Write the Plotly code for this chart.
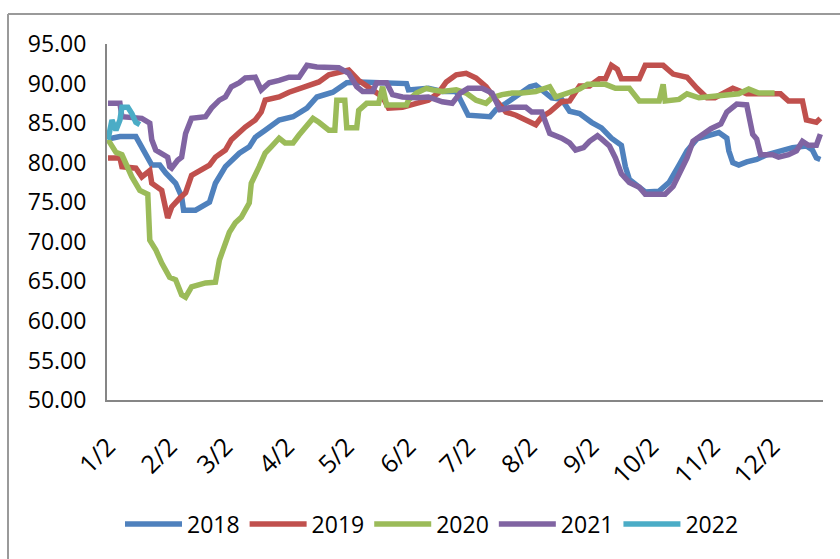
import plotly.graph_objects as go

# Month/day of each observation (all years overlaid on one calendar)
dates_2018 = ["01-02", "01-06", "01-08", "01-16", "01-19", "01-24", "01-28", "01-31",
              "02-05", "02-08", "02-09", "02-15", "02-22", "02-25", "03-02", "03-09",
              "03-14", "03-17", "03-22", "03-29", "04-05", "04-12", "04-17", "04-25",
              "05-02", "05-08", "06-01", "06-02", "06-12", "06-19", "06-26", "06-28",
              "07-02", "07-13", "07-16", "07-21", "07-26", "08-02", "08-05", "08-10",
              "08-13", "08-18", "08-22", "08-27", "09-02", "09-07", "09-12", "09-17",
              "09-18", "09-19", "09-21", "09-26", "09-29", "10-06", "10-11", "10-16",
              "10-20", "10-25", "10-30", "11-05", "11-09", "11-10", "11-12", "11-15",
              "11-19", "11-24", "11-29", "12-06", "12-12", "12-19", "12-22", "12-24",
              "12-26"]
values_2018 = [83.0, 83.1, 83.3, 83.3, 82.0, 79.7, 79.7, 78.7,
               77.4, 75.7, 74.0, 74.0, 75.0, 77.4, 79.5, 81.2,
               82.0, 83.2, 84.1, 85.4, 85.8, 86.9, 88.3, 88.9,
               90.1, 90.2, 90.0, 89.2, 89.4, 89.0, 89.0, 88.0,
               86.0, 85.8, 86.7, 87.5, 88.3, 89.6, 89.8, 88.8,
               88.2, 88.0, 86.5, 86.2, 85.1, 84.4, 83.1, 82.2,
               80.6, 79.5, 77.9, 77.0, 76.3, 76.4, 77.5, 79.7,
               81.5, 83.0, 83.4, 83.8, 83.1, 81.5, 80.0, 79.7,
               80.1, 80.4, 81.0, 81.5, 81.9, 82.1, 81.6, 80.6,
               80.4]

dates_2019 = ["01-02", "01-08", "01-09", "01-16", "01-19", "01-23", "01-24", "01-27",
              "01-29", "02-01", "02-03", "02-07", "02-10", "02-13", "02-17", "02-22",
              "02-25", "03-02", "03-05", "03-09", "03-12", "03-17", "03-20", "03-22",
              "03-29", "04-03", "04-12", "04-18", "04-23", "05-03", "05-08", "05-13",
              "05-20", "05-23", "05-30", "06-06", "06-12", "06-17", "06-21", "06-26",
              "07-01", "07-06", "07-11", "07-16", "07-21", "07-26", "07-31", "08-05",
              "08-08", "08-12", "08-18", "08-22", "08-27", "09-01", "09-06", "09-09",
              "09-12", "09-15", "09-17", "09-26", "09-29", "10-08", "10-13", "10-20",
              "10-25", "10-30", "11-03", "11-12", "11-19", "12-06", "12-10", "12-17",
              "12-19", "12-24", "12-26"]
values_2019 = [80.6, 80.6, 79.5, 79.3, 78.2, 79.0, 77.4, 76.9,
               76.5, 73.0, 74.4, 75.5, 76.2, 78.4, 79.0, 79.7,
               80.7, 81.6, 82.9, 83.9, 84.5, 85.4, 86.4, 87.9,
               88.3, 88.9, 89.6, 90.2, 91.1, 91.7, 90.4, 89.6,
               88.3, 86.9, 87.0, 87.5, 87.9, 88.8, 90.2, 91.1,
               91.3, 90.7, 89.6, 87.9, 86.4, 86.0, 85.4, 84.8,
               85.8, 86.4, 87.7, 87.8, 89.7, 89.7, 90.6, 90.6,
               92.3, 91.8, 90.6, 90.6, 92.3, 92.3, 91.2, 90.8,
               89.4, 88.2, 88.2, 89.4, 88.7, 88.7, 87.8, 87.8,
               85.4, 85.1, 85.6]

dates_2020 = ["01-02", "01-04", "01-06", "01-09", "01-11", "01-14", "01-18", "01-21",
              "01-22", "01-23", "01-26", "01-29", "02-02", "02-05", "02-08", "02-10",
              "02-13", "02-20", "02-25", "02-27", "03-02", "03-04", "03-07", "03-10",
              "03-14", "03-15", "03-19", "03-22", "03-25", "03-29", "04-01", "04-05",
              "04-08", "04-12", "04-15", "04-18", "04-23", "04-26", "04-27", "05-01",
              "05-02", "05-07", "05-08", "05-12", "05-18", "05-20", "05-22", "06-01",
              "06-02", "06-06", "06-11", "06-14", "06-19", "06-26", "07-01", "07-06",
              "07-11", "07-14", "07-19", "07-24", "07-29", "08-05", "08-12", "08-15",
              "08-22", "08-27", "08-31", "09-09", "09-14", "09-21", "09-26", "10-06",
              "10-08", "10-09", "10-16", "10-20", "10-26", "11-05", "11-15", "11-20",
              "11-25", "12-03"]
values_2020 = [82.9, 82.0, 81.3, 81.0, 79.7, 78.2, 76.5, 76.2,
               76.0, 70.2, 69.0, 67.3, 65.5, 65.2, 63.3, 63.0,
               64.3, 64.8, 64.9, 67.7, 69.8, 71.2, 72.4, 73.1,
               74.9, 77.4, 79.5, 81.2, 82.0, 83.1, 82.5, 82.5,
               83.5, 84.8, 85.6, 85.1, 84.1, 84.1, 87.9, 87.9,
               84.4, 84.4, 86.6, 87.5, 87.5, 89.6, 87.3, 87.3,
               87.9, 88.8, 89.4, 89.2, 89.0, 89.2, 88.8, 87.9,
               87.5, 88.2, 88.6, 88.8, 88.8, 89.0, 89.6, 88.3,
               88.8, 89.3, 89.9, 89.9, 89.4, 89.4, 87.8, 87.8,
               89.9, 87.8, 88.0, 88.7, 88.2, 88.4, 88.7, 89.3,
               88.8, 88.8]

dates_2021 = ["01-02", "01-08", "01-09", "01-19", "01-23", "01-24", "01-26", "01-29",
              "02-01", "02-02", "02-03", "02-06", "02-08", "02-10", "02-13", "02-20",
              "02-23", "02-27", "03-02", "03-05", "03-09", "03-12", "03-17", "03-20",
              "03-24", "03-29", "04-03", "04-08", "04-12", "04-17", "04-28", "05-03",
              "05-07", "05-10", "05-15", "05-17", "05-22", "05-25", "05-30", "06-06",
              "06-12", "06-19", "06-24", "06-28", "07-02", "07-09", "07-14", "07-18",
              "07-24", "07-31", "08-03", "08-08", "08-12", "08-18", "08-22", "08-25",
              "08-29", "09-01", "09-05", "09-07", "09-11", "09-14", "09-17", "09-21",
              "09-26", "09-29", "10-09", "10-13", "10-16", "10-20", "10-23", "10-28",
              "11-01", "11-06", "11-09", "11-14", "11-19", "11-22", "11-24", "11-26",
              "12-02", "12-05", "12-10", "12-14", "12-17", "12-20", "12-24", "12-26"]
values_2021 = [87.5, 87.5, 85.8, 85.6, 85.0, 82.9, 81.6, 81.2,
               80.7, 79.5, 79.3, 80.3, 80.7, 83.7, 85.6, 85.8,
               86.9, 87.9, 88.3, 89.6, 90.1, 90.7, 90.8, 89.2,
               90.1, 90.4, 90.8, 90.8, 92.3, 92.1, 92.0, 91.3,
               89.6, 89.0, 89.0, 90.1, 90.1, 88.6, 88.3, 88.2,
               88.3, 87.7, 87.5, 88.8, 89.4, 89.4, 88.8, 86.7,
               87.0, 87.0, 86.4, 86.4, 83.7, 83.1, 82.5, 81.6,
               81.9, 82.7, 83.4, 83.0, 82.1, 80.6, 78.6, 77.5,
               76.9, 76.0, 76.0, 77.0, 78.4, 80.6, 82.7, 83.6,
               84.3, 84.9, 86.4, 87.4, 87.3, 83.6, 83.0, 81.0,
               81.0, 80.7, 81.0, 81.5, 82.7, 82.2, 82.2, 83.6]

dates_2022 = ["01-02", "01-04", "01-06", "01-08", "01-09", "01-12", "01-14", "01-16",
              "01-18"]
values_2022 = [82.9, 85.4, 84.1, 85.4, 87.0, 87.0, 86.2, 85.1,
               84.8]

years = ["2018", "2019", "2020", "2021", "2022"]
colors = ["#4F81BD", "#C0504D", "#9BBB59", "#8064A2", "#4BACC6"]
series = [(dates_2018, values_2018), (dates_2019, values_2019), (dates_2020, values_2020),
          (dates_2021, values_2021), (dates_2022, values_2022)]

tick_dates = ["01-02", "02-02", "03-02", "04-02", "05-02", "06-02",
              "07-02", "08-02", "09-02", "10-02", "11-02", "12-02"]
tick_text = ["1/2", "2/2", "3/2", "4/2", "5/2", "6/2",
             "7/2", "8/2", "9/2", "10/2", "11/2", "12/2"]

BASE_YEAR = "2001"  # common non-leap calendar for overlaying years


def on_calendar(md):
    return [f"{BASE_YEAR}-{d}" for d in md]


FONT = "Open Sans"
GREY = "#868686"

fig = go.Figure()
for name, color, (d, v) in zip(years, colors, series):
    fig.add_trace(go.Scatter(
        x=on_calendar(d), y=v, name=name, mode="lines",
        line=dict(color=color, width=5.5),
    ))

# plot area in pixels
L, R, T, B = 107, 823, 44, 400
W, H = 840, 559
pw, ph = R - L, B - T


def px_x(x):
    return (x - L) / pw


def px_y(y):
    return (B - y) / ph


# outer chart frame (top and left edges)
fig.add_shape(type="line", xref="paper", yref="paper",
              x0=px_x(8), y0=px_y(W), x1=px_x(8), y1=px_y(14),
              line=dict(color="#9a9a9a", width=2))
fig.add_shape(type="line", xref="paper", yref="paper",
              x0=px_x(8), y0=px_y(14), x1=px_x(W + 5), y1=px_y(14),
              line=dict(color="#9a9a9a", width=2))

fig.update_layout(
    width=W, height=H,
    margin=dict(l=L, r=W - R, t=T, b=H - B, pad=0),
    paper_bgcolor="white", plot_bgcolor="white",
    font=dict(family=FONT, size=23, color="#000000"),
    showlegend=True,
    legend=dict(orientation="h", x=px_x(432), y=px_y(524),
                xanchor="center", yanchor="middle",
                font=dict(family=FONT, size=23, color="#000000"),
                itemwidth=57, tracegroupgap=0, bgcolor="rgba(0,0,0,0)"),
)

fig.update_xaxes(
    type="date",
    range=[f"{BASE_YEAR}-01-01 12:00", f"{BASE_YEAR}-12-27 08:00"],
    tickvals=on_calendar(tick_dates), ticktext=tick_text,
    tickangle=-45, ticks="", ticklabelstandoff=20,
    showgrid=False, zeroline=False,
    showline=True, linecolor=GREY, linewidth=2,
    tickfont=dict(family=FONT, size=25, color="#000000"),
)
fig.update_yaxes(
    range=[50, 95], dtick=5, tick0=50, tickformat=".2f",
    ticks="", ticklabelstandoff=14,
    showgrid=False, zeroline=False,
    showline=True, linecolor=GREY, linewidth=2,
    tickfont=dict(family=FONT, size=23, color="#000000"),
)

fig.write_html("out.html")
